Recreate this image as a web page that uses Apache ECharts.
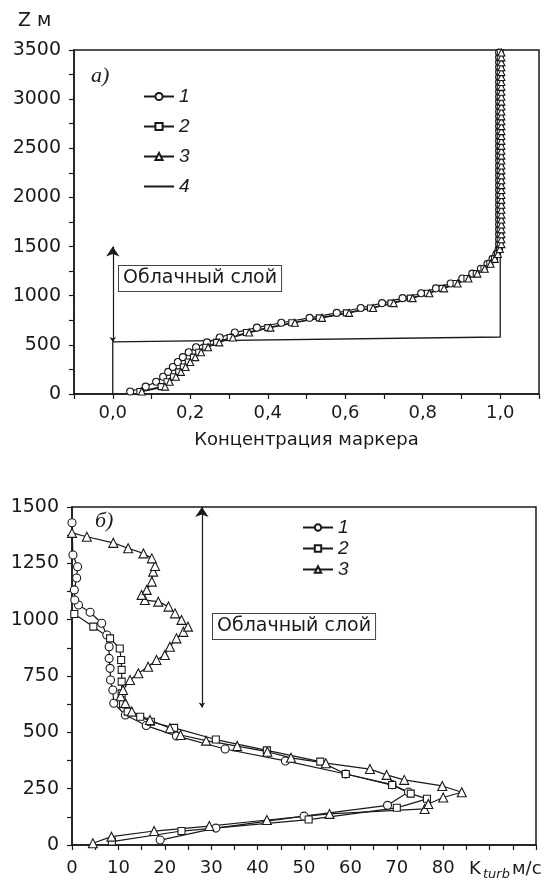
<!DOCTYPE html>
<html><head><meta charset="utf-8">
<script src="https://cdn.jsdelivr.net/npm/echarts@6/dist/echarts.min.js"></script>
<style>html,body{margin:0;padding:0;background:#fff}#c{width:547px;height:886px}</style>
</head><body><div id="c"></div>
<script>
// ---------- Panel (а): marker concentration vs height ----------
const zTop = [25,75,125,175,225,275,325,375,425,475,525,575,625,675,725,775,825,875,925,975,
  1025,1075,1125,1175,1225,1275,1325,1375,1425,1475,1525,1575,1625,1675,1725,1775,1825,1875,1925,1975,
  2025,2075,2125,2175,2225,2275,2325,2375,2425,2475,2525,2575,2625,2675,2725,2775,2825,2875,2925,2975,
  3025,3075,3125,3175,3225,3275,3325,3375,3425,3475];
const conc1 = [0.045,0.085,0.112,0.13,0.143,0.155,0.168,0.181,0.196,0.215,0.243,0.276,0.315,0.372,0.435,0.508,0.578,0.64,0.695,0.748,
  0.796,0.834,0.872,0.902,0.928,0.95,0.967,0.98,0.99,0.996,0.997,0.997,0.997,0.997,0.997,0.997,0.997,0.997,0.997,0.997,
  0.997,0.997,0.997,0.997,0.997,0.997,0.997,0.997,0.997,0.997,0.997,0.997,0.997,0.997,0.997,0.997,0.997,0.997,0.997,0.997,
  0.997,0.997,0.997,0.997,0.997,0.997,0.997,0.997,0.997,0.997];
const conc2 = [0.07,0.125,0.14,0.157,0.17,0.182,0.195,0.208,0.222,0.24,0.268,0.303,0.345,0.4,0.462,0.533,0.603,0.665,0.718,0.768,
  0.812,0.85,0.886,0.914,0.938,0.958,0.973,0.985,0.993,0.998,1.0,1.0,1.0,1.0,1.0,1.0,1.0,1.0,1.0,1.0,
  1.0,1.0,1.0,1.0,1.0,1.0,1.0,1.0,1.0,1.0,1.0,1.0,1.0,1.0,1.0,1.0,1.0,1.0,1.0,1.0,
  1.0,1.0,1.0,1.0,1.0,1.0,1.0,1.0,1.0,1.0];
const conc3 = [0.075,0.135,0.147,0.163,0.176,0.188,0.2,0.213,0.228,0.246,0.275,0.31,0.352,0.407,0.47,0.54,0.61,0.672,0.725,0.774,
  0.817,0.855,0.89,0.918,0.941,0.96,0.975,0.986,0.994,0.999,1.003,1.003,1.003,1.003,1.003,1.003,1.003,1.003,1.003,1.003,
  1.003,1.003,1.003,1.003,1.003,1.003,1.003,1.003,1.003,1.003,1.003,1.003,1.003,1.003,1.003,1.003,1.003,1.003,1.003,1.003,
  1.003,1.003,1.003,1.003,1.003,1.003,1.003,1.003,1.003,1.003];
const conc4 = [0, 0, 1.0, 1.0];
const zTop4 = [0, 530, 580, 3500];
const cloudTopX = 0;
const cloudTopZ = [530, 1500];
const xTicksTop = ['0,0','0,2','0,4','0,6','0,8','1,0'];

// ---------- Panel (б): K_turb vs height ----------
const kTurb1 = [19,31,50,68,72.5,69,59,46,33,22.5,16,11.5,9,8.8,8.3,8.2,8,8,7.5,6.4,3.9,1.4,0.6,0.5,1,1.2,0.2,0];
const zTurb1 = [22,75,128,176,235,268,315,373,426,484,530,577,629,688,732,784,828,880,932,984,1033,1065,1087,1132,1185,1235,1287,1430];
const kTurb2 = [8.6,23.6,51,70,76.5,73,69,59,53.5,42,31,22,17,14.7,12,11,10.7,10.7,10.7,10.6,10.3,8.2,4.6,0.5];
const zTurb2 = [15,62,113,165,205,228,266,315,370,420,468,520,547,569,592,625,673,725,777,821,872,917,969,1025];
const kTurb3 = [4.5,8.5,17.7,29.6,42,55.5,76,76.8,80,84,79.8,71.6,67.8,64.2,54.7,47.2,42.1,35.6,28.9,23.4,21.1,16.8,12.9,11.5,10.5,11,
  12.5,14.3,16.4,18.2,20,21.1,22.5,24,25,23.6,22.2,20.8,18.6,15.7,15,16.1,17.2,17.5,17.9,17.2,15.4,12.1,8.9,3.2,0];
const zTurb3 = [8,37,62,84,111,138,160,182,211,234,262,289,311,337,363,387,414,439,463,488,518,555,592,630,660,688,
  732,762,791,821,843,880,917,946,969,999,1028,1058,1080,1087,1110,1132,1169,1213,1238,1272,1294,1317,1341,1368,1385];
const cloudBotK = 28;
const cloudBotZ = [610, 1500];
const xTickMaxBottom = 80;

const FONT = 'DejaVu Sans';
const INK = '#1a1a1a';
const zip = (xs, ys) => xs.map((x, i) => [x, ys[i]]);

const chart = echarts.init(document.getElementById('c'), null, {renderer: 'canvas'});

function markerSeries(name, xs, ys, symbol, size, gi) {
  return {
    name, type: 'line', xAxisIndex: gi, yAxisIndex: gi,
    data: zip(xs, ys), symbol, symbolSize: size, showSymbol: true,
    lineStyle: {color: INK, width: 1.2},
    itemStyle: {color: '#fff', borderColor: INK, borderWidth: 1.1},
    emphasis: {disabled: true}, z: 3
  };
}
const axisLine = {onZero: false, lineStyle: {color: INK, width: 1.5}};
const tick = {show: true, length: 5, lineStyle: {color: INK, width: 1.2}};
const minor = {show: true, splitNumber: 2, length: 5, lineStyle: {color: INK, width: 1.2}};
const legendText = {fontStyle: 'italic', fontSize: 19, fontFamily: 'Liberation Sans', color: INK};

const option = {
  animation: false,
  backgroundColor: '#fff',
  grid: [
    {left: 74, top: 50, width: 465, height: 344, show: true, borderColor: INK, borderWidth: 1.5},
    {left: 72, top: 507, width: 464, height: 338, show: true, borderColor: INK, borderWidth: 1.5}
  ],
  xAxis: [
    {type: 'value', gridIndex: 0, min: -0.1, max: 1.1, interval: 0.1,
      axisLine, axisTick: tick, splitLine: {show: false},
      axisLabel: {fontSize: 18, fontFamily: FONT, color: INK, margin: 10,
        formatter: v => { const n = Math.round(v * 10); return (n >= 0 && n % 2 === 0 && n / 2 < xTicksTop.length) ? xTicksTop[n / 2] : ''; }},
      name: 'Концентрация маркера', nameLocation: 'middle', nameGap: 37,
      nameTextStyle: {fontSize: 18, fontFamily: FONT, color: INK}},
    {type: 'value', gridIndex: 1, min: 0, max: 100, interval: 10,
      axisLine, axisTick: tick, minorTick: minor, splitLine: {show: false}, minorSplitLine: {show: false},
      axisLabel: {fontSize: 18, fontFamily: FONT, color: INK, margin: 14,
        formatter: v => v <= xTickMaxBottom ? String(v) : ''}}
  ],
  yAxis: [
    {type: 'value', gridIndex: 0, min: 0, max: 3500, interval: 500,
      axisLine, axisTick: tick, minorTick: minor, splitLine: {show: false}, minorSplitLine: {show: false},
      axisLabel: {fontSize: 19, fontFamily: FONT, color: INK, margin: 13, formatter: v => String(v)}},
    {type: 'value', gridIndex: 1, min: 0, max: 1500, interval: 250,
      axisLine, axisTick: tick, minorTick: minor, splitLine: {show: false}, minorSplitLine: {show: false},
      axisLabel: {fontSize: 19, fontFamily: FONT, color: INK, margin: 13, formatter: v => String(v)}}
  ],
  legend: [
    {data: ['1', '2', '3', {name: '4', itemStyle: {opacity: 0}}], orient: 'vertical', left: 138, top: 82,
      itemWidth: 30, itemHeight: 9, itemGap: 11, selectedMode: false, textStyle: legendText},
    {data: ['1', '2', '3'], orient: 'vertical', left: 297, top: 513, itemWidth: 30, itemHeight: 8, itemGap: 2,
      selectedMode: false, textStyle: legendText}
  ],
  series: [
    markerSeries('1', conc1, zTop, 'circle', 7, 0),
    markerSeries('2', conc2, zTop, 'rect', 6, 0),
    markerSeries('3', conc3, zTop, 'triangle', 7, 0),
    {name: '4', type: 'line', xAxisIndex: 0, yAxisIndex: 0, data: zip(conc4, zTop4), symbol: 'none',
      lineStyle: {color: INK, width: 1.3}, itemStyle: {color: INK}, z: 2},
    {type: 'lines', coordinateSystem: 'cartesian2d', xAxisIndex: 0, yAxisIndex: 0,
      data: [{coords: [[cloudTopX, cloudTopZ[0]], [cloudTopX, cloudTopZ[1]]]}],
      symbol: ['arrow', 'arrow'], symbolSize: [5, 10], lineStyle: {color: INK, width: 1.2, opacity: 1}},
    markerSeries('1', kTurb1, zTurb1, 'circle', 8, 1),
    markerSeries('2', kTurb2, zTurb2, 'rect', 7, 1),
    markerSeries('3', kTurb3, zTurb3, 'triangle', 9, 1),
    {type: 'lines', coordinateSystem: 'cartesian2d', xAxisIndex: 1, yAxisIndex: 1,
      data: [{coords: [[cloudBotK, cloudBotZ[0]], [cloudBotK, cloudBotZ[1]]]}],
      symbol: ['arrow', 'arrow'], symbolSize: [5, 10], lineStyle: {color: INK, width: 1.2, opacity: 1}}
  ],
  graphic: [
    {type: 'text', left: 18, top: 12, style: {text: 'Z м', fontSize: 19, fontFamily: FONT, fill: INK}},
    {type: 'text', left: 91, top: 65, style: {text: 'а)', fontSize: 22, fontStyle: 'italic', fontFamily: 'Liberation Serif', fill: INK}},
    {type: 'text', left: 95, top: 510, style: {text: 'б)', fontSize: 22, fontStyle: 'italic', fontFamily: 'Liberation Serif', fill: INK}},
    {type: 'text', left: 118, top: 265, style: {text: 'Облачный слой', fontSize: 19, fontFamily: FONT, fill: INK,
      borderColor: '#444', borderWidth: 1, padding: [3, 4, 3, 4], backgroundColor: '#fff'}},
    {type: 'text', left: 212, top: 613, style: {text: 'Облачный слой', fontSize: 19, fontFamily: FONT, fill: INK,
      borderColor: '#444', borderWidth: 1, padding: [3, 4, 3, 4], backgroundColor: '#fff'}},
    {type: 'text', left: 469, top: 860, style: {text: 'K', fontSize: 18, fontFamily: FONT, fill: INK}},
    {type: 'text', left: 483, top: 868, style: {text: 'turb', fontSize: 13, fontStyle: 'italic', fontFamily: FONT, fill: INK}},
    {type: 'text', left: 512, top: 860, style: {text: 'м/с', fontSize: 18, fontFamily: FONT, fill: INK}}
  ]
};
chart.setOption(option);
</script>
</body></html>
